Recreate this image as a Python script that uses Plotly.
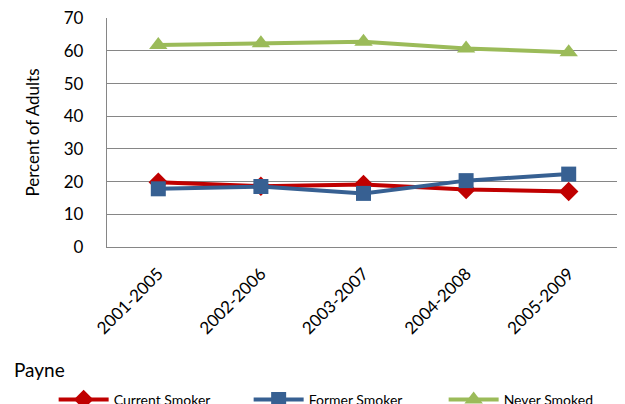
import plotly.graph_objects as go

categories = ["2001-2005", "2002-2006", "2003-2007", "2004-2008", "2005-2009"]
current_smoker = [19.8, 18.6, 19.1, 17.6, 17.0]
former_smoker = [17.8, 18.5, 16.4, 20.3, 22.3]
never_smoked = [61.8, 62.3, 62.8, 60.7, 59.6]
y_ticks = [0, 10, 20, 30, 40, 50, 60, 70]

FONT = "Lato"
GRID = "#868686"

fig = go.Figure()
series = [
    ("Current Smoker", current_smoker, "#C00000", "diamond", 15),
    ("Former Smoker", former_smoker, "#376092", "square", 15),
    ("Never Smoked", never_smoked, "#9BBB59", "triangle-up", 16),
]
for name, vals, color, sym, size in series:
    fig.add_trace(go.Scatter(
        x=list(range(len(categories))), y=vals, name=name, mode="lines+markers",
        line=dict(color=color, width=4),
        marker=dict(symbol=sym, size=size, color=color),
    ))

fig.update_layout(
    width=617, height=396,
    margin=dict(l=99, r=5, t=10, b=157, autoexpand=False),
    paper_bgcolor="white", plot_bgcolor="white",
    font=dict(family=FONT, color="#000000"),
    showlegend=True,
    legend=dict(
        orientation="h", x=-0.104, xanchor="left", y=-0.668, yanchor="middle",
        font=dict(size=14, family=FONT), entrywidth=130, entrywidthmode="pixels",
        itemwidth=50, traceorder="normal", bgcolor="rgba(0,0,0,0)",
    ),
    annotations=[dict(
        text="Payne", xref="paper", yref="paper", x=-0.185, y=-0.537,
        xanchor="left", yanchor="middle", showarrow=False,
        font=dict(size=19, family=FONT),
    )],
)
fig.update_xaxes(
    range=[-0.5, 4.5], tickmode="array", tickvals=list(range(len(categories))),
    ticktext=categories, tickangle=-45, tickfont=dict(size=17, family=FONT),
    showgrid=False, showline=True, linecolor=GRID, linewidth=1.3,
    ticks="", zeroline=False, ticklabelstandoff=9,
)
fig.update_yaxes(
    range=[0, 70.05], tickmode="array", tickvals=y_ticks,
    tickfont=dict(size=17, family=FONT),
    showgrid=True, gridcolor=GRID, gridwidth=1.3,
    showline=True, linecolor=GRID, linewidth=1.3, zeroline=False,
    ticks="", ticklabelstandoff=19, ticklabeloverflow="allow",
    title=dict(text="Percent of Adults", font=dict(size=17, family=FONT), standoff=19),
)

fig.write_html("out.html")
